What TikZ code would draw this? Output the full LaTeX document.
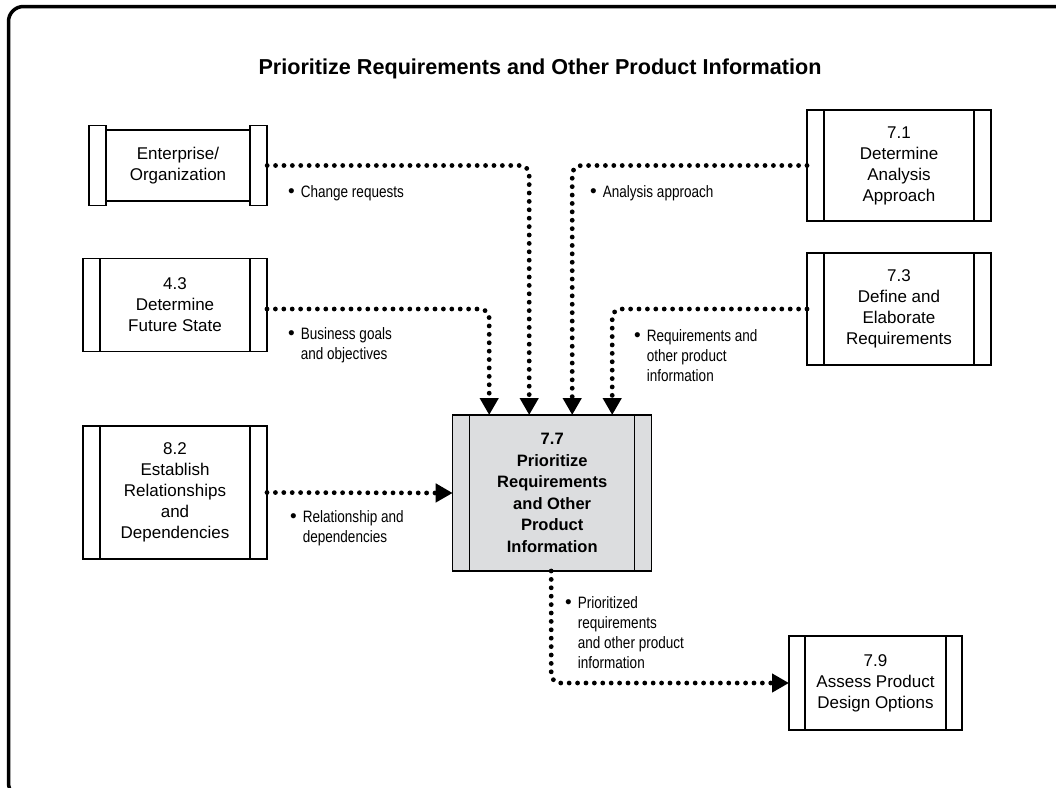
\documentclass[tikz,border=0pt]{standalone}
\usepackage{fontspec}
\setmainfont{Liberation Sans}
\newfontfamily\lblfont[FakeStretch=0.82]{Liberation Sans}
\usetikzlibrary{positioning,arrows.meta,calc}
\definecolor{taskGray}{HTML}{DCDDDF}
\tikzset{
  task/.style={draw, line width=1.5pt, fill=white, inner sep=0pt, outer sep=0pt, align=center,
               font=\fontsize{17}{21}\selectfont, minimum width=184pt,
               path picture={\draw[line width=1.5pt]
                 ([xshift=17pt]path picture bounding box.north west) -- ([xshift=17pt]path picture bounding box.south west)
                 ([xshift=-17pt]path picture bounding box.north east) -- ([xshift=-17pt]path picture bounding box.south east);}},
  hub/.style={task, fill=taskGray, font=\fontsize{16.5}{21.5}\selectfont\bfseries},
  panel/.style={draw, line width=1.5pt, fill=white, inner sep=0pt, outer sep=0pt,
                minimum width=17pt, minimum height=80pt},
  flow/.style={-{Triangle[length=17pt,width=18pt]}, line width=4.8pt, line cap=round,
               dash pattern=on 0pt off 8.4pt, rounded corners=9pt},
  lbl/.style={font=\lblfont\fontsize{16.5}{20}\selectfont, inner sep=0pt, anchor=base west},
}
\newcommand{\itm}[1]{\raisebox{-0.5pt}{\normalfont\fontsize{19}{19}\selectfont\textbullet}\hspace{6pt}\begin{tabular}[t]{@{}l@{}}#1\end{tabular}}

\begin{document}
\begin{tikzpicture}[x=1pt, y=-1pt]
  \clip (0,0) rectangle (1056,787);
  \draw[line width=3.5pt, rounded corners=15pt] (8.5,6.5) rectangle (1090,798);

  \node[font=\fontsize{21.6}{26}\selectfont\bfseries, anchor=base] (title) at (540,74)
    {Prioritize Requirements and Other Product Information};

  % sources on the left
  \node[task, minimum width=144.3pt, minimum height=71pt, path picture={}] (ent) at (178,165.5) {Enterprise/\\Organization};
  \node[panel, left=0pt of ent] (entL) {};
  \node[panel, right=0pt of ent] (entR) {};
  \node[task, minimum height=93pt] (fut) at (175,305) {4.3\\Determine\\Future State};
  \node[task, minimum height=133pt] (rel) at (175,492.5) {8.2\\Establish\\Relationships\\and\\Dependencies};

  % sources on the right
  \node[task, minimum height=111pt] (ana) at (899,165.5) {7.1\\Determine\\Analysis\\Approach};
  \node[task, minimum height=112pt] (def) at (899,309) {7.3\\Define and\\Elaborate\\Requirements};

  % the task itself and its output
  \node[hub, minimum width=199pt, minimum height=156pt] (prio) at (552.2,493)
    {7.7\\Prioritize\\Requirements\\and Other\\Product\\Information};
  \node[task, minimum width=173pt, minimum height=94pt, path picture={\draw[line width=1.5pt]
      ([xshift=16pt]path picture bounding box.north west) -- ([xshift=16pt]path picture bounding box.south west)
      ([xshift=-16pt]path picture bounding box.north east) -- ([xshift=-16pt]path picture bounding box.south east);}]
    (asd) at (875.5,683) {7.9\\Assess Product\\Design Options};

  \draw[flow] (entR.east) -| ([xshift=-23pt]prio.north);
  \draw[flow] (fut.east) ++(0,4) -| ([xshift=-63pt]prio.north);
  \draw[flow] (ana.west) -| ([xshift=20pt]prio.north);
  \draw[flow] (def.west) -| ([xshift=60pt]prio.north);
  \draw[flow] (rel.east) -- (prio.west);
  \draw[flow] ([xshift=-1pt]prio.south) |- (asd.west);

  \node[lbl] (lCr) at (288,197) {\itm{Change requests}};
  \node[lbl] (lBg) at (288,339) {\itm{Business goals\\and objectives}};
  \node[lbl] (lAa) at (590,197) {\itm{Analysis approach}};
  \node[lbl] (lRq) at (634,341) {\itm{Requirements and\\other product\\information}};
  \node[lbl] (lRd) at (290,522) {\itm{Relationship and\\dependencies}};
  \node[lbl] (lPr) at (565,608) {\itm{Prioritized\\requirements\\and other product\\information}};
\end{tikzpicture}
\end{document}
